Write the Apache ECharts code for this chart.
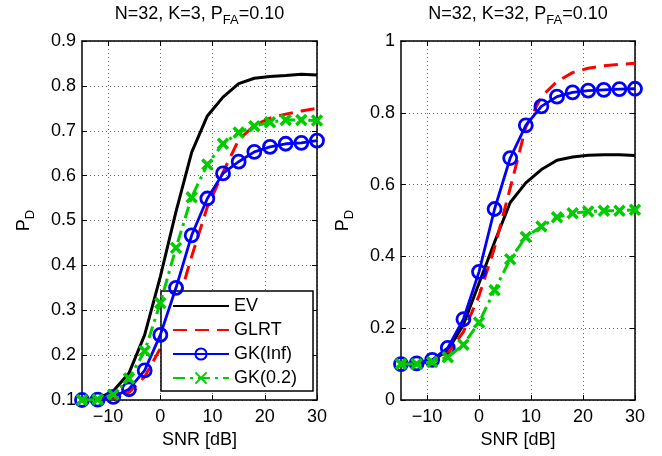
<!DOCTYPE html>
<html><head><meta charset="utf-8">
<script src="https://cdn.jsdelivr.net/npm/echarts@6/dist/echarts.min.js"></script>
<style>html,body{margin:0;padding:0;background:#fff}#c{width:662px;height:456px}</style>
</head><body><div id="c"></div>
<script>
// ---- data ----
const snr = [-15,-12,-9,-6,-3,0,3,6,9,12,15,18,21,24,27,30];
const xTicks = [-10,0,10,20,30];
const yTicksLeft = [0.1,0.2,0.3,0.4,0.5,0.6,0.7,0.8,0.9];
const yTicksRight = [0,0.2,0.4,0.6,0.8,1];
const seriesNames = ['EV','GLRT','GK(Inf)','GK(0.2)'];
const titleLeft = ['N=32, K=3, P','FA','=0.10'];
const titleRight = ['N=32, K=32, P','FA','=0.10'];
const xName = 'SNR [dB]';
const yName = ['P','D'];

// left plot (K=3)
const evLeft    = [0.100,0.103,0.120,0.160,0.245,0.375,0.520,0.652,0.733,0.775,0.805,0.817,0.821,0.823,0.826,0.824];
const glrtLeft  = [0.100,0.100,0.104,0.117,0.152,0.215,0.300,0.420,0.530,0.607,0.680,0.712,0.728,0.737,0.744,0.750];
const gkInfLeft = [0.100,0.101,0.107,0.124,0.166,0.245,0.350,0.467,0.549,0.605,0.631,0.653,0.664,0.671,0.673,0.678];
const gk02Left  = [0.100,0.101,0.112,0.148,0.209,0.316,0.439,0.552,0.625,0.671,0.696,0.710,0.719,0.724,0.724,0.723];
// right plot (K=32)
const evRight    = [0.100,0.101,0.109,0.138,0.210,0.325,0.440,0.550,0.605,0.642,0.668,0.677,0.682,0.683,0.683,0.681];
const glrtRight  = [0.100,0.100,0.107,0.130,0.190,0.290,0.425,0.590,0.760,0.845,0.887,0.912,0.924,0.931,0.935,0.938];
const gkInfRight = [0.100,0.102,0.112,0.145,0.225,0.357,0.532,0.674,0.765,0.818,0.845,0.857,0.862,0.864,0.866,0.867];
const gk02Right  = [0.100,0.100,0.106,0.119,0.154,0.216,0.306,0.392,0.454,0.483,0.509,0.520,0.525,0.527,0.527,0.530];

// ---- chart ----
const FONT = '"Liberation Sans", Arial, Helvetica, sans-serif';
const FS = 18;
const chart = echarts.init(document.getElementById('c'), null, {renderer: 'canvas'});

const grids = [
  {left: 82, top: 39, width: 235, height: 361},
  {left: 401, top: 39, width: 234, height: 361}
];
const yCfg = [
  {min: 0.1, max: 0.9, interval: 0.1, ticks: yTicksLeft, title: titleLeft},
  {min: 0, max: 1, interval: 0.2, ticks: yTicksRight, title: titleRight}
];
const frameLine = {show: true, onZero: false, lineStyle: {color: '#000', width: 1.5}};
const gridLine = {show: true, lineStyle: {color: '#666', type: [1, 3], width: 1}};
const richSub = {
  a: {fontSize: FS, fontFamily: FONT, color: '#000', lineHeight: 22, verticalAlign: 'top'},
  b: {fontSize: 13, fontFamily: FONT, color: '#000', lineHeight: 13, verticalAlign: 'bottom'}
};
const fmtX = v => (v < 0 ? '\u2212' + Math.abs(v) : String(v));
const fmtY = v => {
  const r = Math.round(v * 10) / 10;
  return (r === 0 || r === 1) ? String(r) : r.toFixed(1);
};

const xAxes = [], yAxes = [];
grids.forEach((g, i) => {
  const t = yCfg[i].title;
  xAxes.push({
    gridIndex: i, type: 'value', min: -15, max: 30, position: 'bottom',
    axisLine: frameLine,
    axisTick: {show: true, inside: true, length: 5, customValues: xTicks, lineStyle: {color: '#000', width: 1}},
    axisLabel: {customValues: xTicks, formatter: fmtX, color: '#000', fontSize: FS, fontFamily: FONT, margin: 8},
    splitLine: gridLine,
    name: xName, nameLocation: 'middle', nameGap: 30,
    nameTextStyle: {color: '#000', fontSize: FS, fontFamily: FONT}
  });
  xAxes.push({
    gridIndex: i, type: 'value', min: -15, max: 30, position: 'top',
    axisLine: frameLine,
    axisTick: {show: true, inside: true, length: 5, customValues: xTicks, lineStyle: {color: '#000', width: 1}},
    axisLabel: {show: false, customValues: xTicks},
    splitLine: {show: false},
    name: '{a|' + t[0] + '}{b|' + t[1] + '}{a|' + t[2] + '}',
    nameLocation: 'middle', nameGap: 14,
    nameTextStyle: {rich: richSub}
  });
  const yc = yCfg[i];
  yAxes.push({
    gridIndex: i, type: 'value', min: yc.min, max: yc.max, interval: yc.interval, position: 'left',
    axisLine: frameLine,
    axisTick: {show: true, inside: true, length: 5, customValues: yc.ticks, lineStyle: {color: '#000', width: 1}},
    axisLabel: {customValues: yc.ticks, formatter: fmtY, color: '#000', fontSize: FS, fontFamily: FONT, margin: 6},
    splitLine: gridLine,
    name: '{a|' + yName[0] + '}{b|' + yName[1] + '}',
    nameLocation: 'middle', nameRotate: 90, nameGap: 45,
    nameTextStyle: {rich: richSub}
  });
  yAxes.push({
    gridIndex: i, type: 'value', min: yc.min, max: yc.max, interval: yc.interval, position: 'right',
    axisLine: frameLine,
    axisTick: {show: true, inside: true, length: 5, customValues: yc.ticks, lineStyle: {color: '#000', width: 1}},
    axisLabel: {show: false, customValues: yc.ticks},
    splitLine: {show: false}
  });
});

const GREEN = '#00cc00';
const styles = [
  {symbol: 'none', lineStyle: {color: '#000', width: 3, type: 'solid'}, itemStyle: {color: 'rgba(0,0,0,0)', borderWidth: 0}},
  {symbol: 'none', lineStyle: {color: '#ff0000', width: 3, type: [14, 8]}, itemStyle: {color: 'rgba(0,0,0,0)', borderWidth: 0}},
  {symbol: 'circle', symbolSize: 13, lineStyle: {color: '#0000ff', width: 2.8, type: 'solid'},
   itemStyle: {color: 'rgba(0,0,0,0)', borderColor: '#0000ff', borderWidth: 2.8}},
  {symbol: 'path://M0,0L10,10M0,10L10,0', symbolSize: 10, lineStyle: {color: GREEN, width: 3, type: [12, 5, 3, 5]},
   itemStyle: {color: 'rgba(0,0,0,0)', borderColor: GREEN, borderWidth: 3.5}}
];
const dataSets = [
  [evLeft, glrtLeft, gkInfLeft, gk02Left],
  [evRight, glrtRight, gkInfRight, gk02Right]
];
const series = [];
dataSets.forEach((sets, gi) => {
  sets.forEach((vals, k) => {
    const st = styles[k];
    series.push(Object.assign({
      name: seriesNames[k], type: 'line',
      xAxisIndex: gi * 2, yAxisIndex: gi * 2,
      data: snr.map((x, j) => [x, vals[j]]),
      showSymbol: st.symbol !== 'none',
      smooth: false, silent: true, z: 2 + k
    }, st));
  });
});

chart.setOption({
  animation: false,
  backgroundColor: '#fff',
  grid: grids,
  xAxis: xAxes,
  yAxis: yAxes,
  legend: {
    show: true, orient: 'vertical', left: 161, top: 291,
    padding: [6, 16, 4, 11], itemWidth: 56, itemHeight: 14, itemGap: 6,
    backgroundColor: '#fff', borderColor: '#000', borderWidth: 1.5, borderRadius: 0,
    textStyle: {color: '#000', fontSize: FS, fontFamily: FONT},
    selectedMode: false,
    data: seriesNames
  },
  series: series
});
</script></body></html>
